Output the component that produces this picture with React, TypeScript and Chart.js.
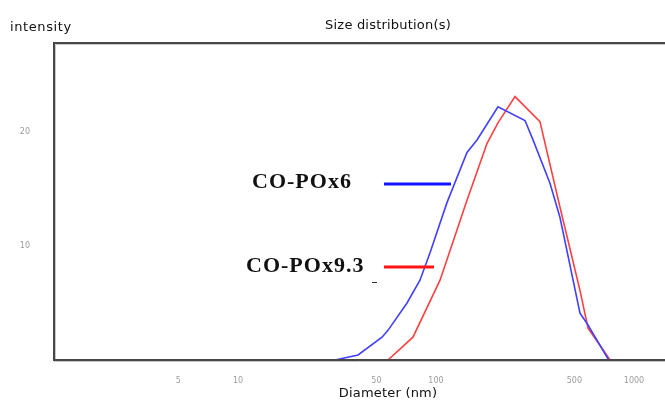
import React, { useEffect, useRef } from "react";
import { Chart, registerables } from "chart.js";

Chart.register(...registerables);

// Diameter (nm) and intensity (%)
const blueDiam = [30.9, 40.4, 53.4, 57.2, 71.4, 83.0, 93.3, 113.6, 143.4, 161.1, 205.6, 281.5, 309.0, 376.4, 422.9, 533.6, 579.2, 745];
const blueInt = [0, 0.44, 2.0, 2.6, 5.0, 7.0, 9.4, 13.8, 18.2, 19.3, 22.2, 21.0, 19.3, 15.5, 12.5, 4.1, 3.2, 0];
const redDiam = [49.2, 57.2, 76.5, 104.8, 143.4, 181.1, 205.6, 250.6, 335.0, 422.9, 533.6, 585.9, 757];
const redInt = [0, 0, 2.0, 7.0, 14.0, 19.0, 20.8, 23.1, 20.9, 13.4, 6.1, 2.8, 0];

const xTicks = [5, 10, 50, 100, 500, 1000];
const yTicks = [10, 20];

const seriesNames = ["CO-POx6", "CO-POx9.3"];
const seriesColors = ["#4040ff", "#ff4040"];
const legendColors = ["#1414ff", "#ff1414"];

const titleText = "Size distribution(s)";
const yTitle = "intensity";
const xTitle = "Diameter (nm)";

const framePlugin = {
  id: "frame",
  afterDraw(chart: any) {
    const ctx = chart.ctx as CanvasRenderingContext2D;
    const a = chart.chartArea;
    ctx.save();
    // frame (left, top, bottom)
    ctx.strokeStyle = "#c8c8c8";
    ctx.lineWidth = 1;
    ctx.beginPath();
    ctx.moveTo(a.left + 1.5, a.top + 1.5);
    ctx.lineTo(a.right, a.top + 1.5);
    ctx.moveTo(a.left + 1.5, a.top + 1.5);
    ctx.lineTo(a.left + 1.5, a.bottom);
    ctx.moveTo(a.left, a.bottom + 1.5);
    ctx.lineTo(a.right, a.bottom + 1.5);
    ctx.stroke();
    ctx.strokeStyle = "#474747";
    ctx.lineWidth = 2;
    ctx.beginPath();
    ctx.moveTo(a.right, a.top);
    ctx.lineTo(a.left, a.top);
    ctx.lineTo(a.left, a.bottom);
    ctx.lineTo(a.right, a.bottom);
    ctx.stroke();

    // titles
    ctx.fillStyle = "#111";
    ctx.font = "13px 'DejaVu Sans'";
    (ctx as any).letterSpacing = "0.6px";
    ctx.textBaseline = "middle";
    ctx.textAlign = "left";
    ctx.fillText(yTitle, 10, 28);
    ctx.textAlign = "center";
    (ctx as any).letterSpacing = "0.2px";
    ctx.fillText(titleText, 388, 26);
    ctx.fillText(xTitle, 388, 394);

    // in-plot legend
    (ctx as any).letterSpacing = "1px";
    ctx.font = "bold 22px 'Liberation Serif'";
    ctx.textAlign = "left";
    ctx.fillStyle = "#111";
    ctx.fillText(seriesNames[0], 252, 182);
    ctx.fillText(seriesNames[1], 246, 266);
    ctx.lineWidth = 3;
    ctx.strokeStyle = legendColors[0];
    ctx.beginPath();
    ctx.moveTo(384, 184);
    ctx.lineTo(451, 184);
    ctx.stroke();
    ctx.strokeStyle = legendColors[1];
    ctx.beginPath();
    ctx.moveTo(384, 267);
    ctx.lineTo(434, 267);
    ctx.stroke();
    ctx.strokeStyle = "#333";
    ctx.lineWidth = 1;
    ctx.beginPath();
    ctx.moveTo(372, 282.5);
    ctx.lineTo(377, 282.5);
    ctx.stroke();
    ctx.restore();
  },
};

export default function App() {
  const ref = useRef<HTMLCanvasElement | null>(null);
  useEffect(() => {
    document.body.style.margin = "0";
    const canvas = ref.current!;
    const chart = new Chart(canvas, {
      type: "line",
      data: {
        datasets: [
          {
            data: blueDiam.map((x, i) => ({ x, y: blueInt[i] })),
            borderColor: seriesColors[0],
            borderWidth: 1.6,
            pointRadius: 0,
            tension: 0,
          },
          {
            data: redDiam.map((x, i) => ({ x, y: redInt[i] })),
            borderColor: seriesColors[1],
            borderWidth: 1.6,
            pointRadius: 0,
            tension: 0,
          },
        ],
      },
      options: {
        animation: false,
        responsive: false,
        maintainAspectRatio: false,
        layout: { padding: { top: 43, right: 0, left: 0, bottom: 0 } },
        plugins: { legend: { display: false }, tooltip: { enabled: false } },
        scales: {
          x: {
            type: "logarithmic",
            min: 1.177,
            max: 1434,
            grid: { display: false },
            border: { display: false },
            afterBuildTicks: (s: any) => {
              s.ticks = xTicks.map((v) => ({ value: v }));
            },
            afterFit: (s: any) => {
              s.height = 43;
            },
            ticks: {
              autoSkip: false,
              maxRotation: 0,
              padding: 8,
              color: "#9c9c9c",
              font: { family: "DejaVu Sans", size: 8 },
              callback: (v: any) => String(v),
            },
          },
          y: {
            min: 0,
            max: 27.8,
            grid: { display: false },
            border: { display: false },
            afterBuildTicks: (s: any) => {
              s.ticks = yTicks.map((v) => ({ value: v }));
            },
            afterFit: (s: any) => {
              s.width = 54;
            },
            ticks: {
              padding: 16,
              color: "#9c9c9c",
              font: { family: "DejaVu Sans", size: 8 },
              callback: (v: any) => String(v),
            },
          },
        },
      },
      plugins: [framePlugin],
    });
    return () => chart.destroy();
  }, []);
  return (
    <div style={{ width: 665, height: 403, background: "#fff" }}>
      <canvas ref={ref} width={665} height={403} style={{ display: "block" }} />
    </div>
  );
}
